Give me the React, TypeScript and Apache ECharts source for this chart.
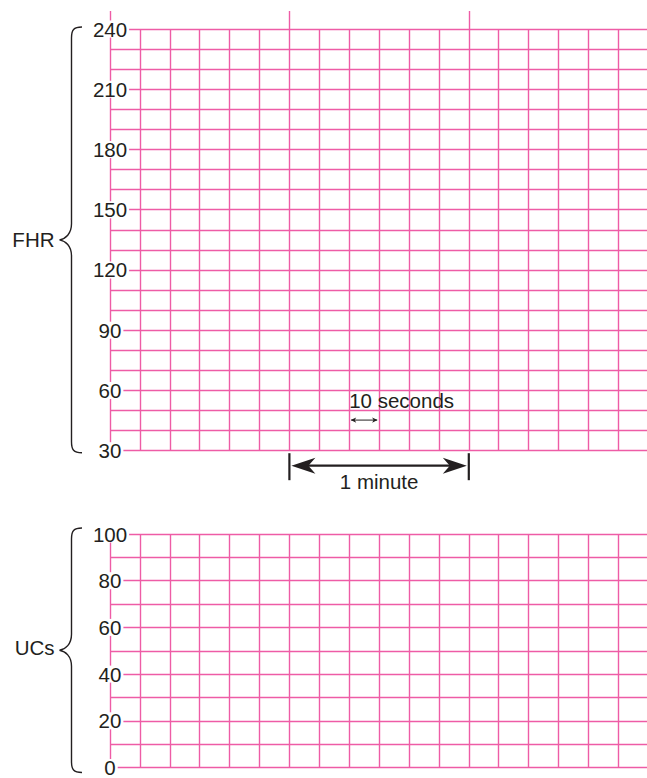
import React, { useEffect, useRef } from 'react';
import * as echarts from 'echarts';

// 10-second columns across three minutes
const timeRange = [0, 18];
const minuteStep = 6;
const fhrRange = [30, 240];
const fhrLabelStep = 30;
const fhrMinorParts = 3;
const ucRange = [0, 100];
const ucLabelStep = 20;
const ucMinorParts = 2;
const axisTitles = ['FHR', 'UCs'];
const annotationTexts = ['10 seconds', '1 minute'];
const tenSecondSpan = [8, 9];
const tenSecondRow = [55, 45];
const minuteSpan = [6, 12];

const gridColor = '#ee5ca6';
const textColor = '#231f20';
const font = '"Liberation Sans", Arial, Helvetica, sans-serif';

function xAxis(gridIndex: number, interval: number) {
  return {
    type: 'value', gridIndex, min: timeRange[0], max: timeRange[1], interval,
    axisLine: { show: false }, axisTick: { show: false }, axisLabel: { show: false },
    splitLine: { show: true, lineStyle: { color: gridColor, width: 1.4 } },
  };
}
function yAxis(gridIndex: number, range: number[], step: number, parts: number) {
  return {
    type: 'value', gridIndex, min: range[0], max: range[1], interval: step, z: 3,
    axisLine: { show: false }, axisTick: { show: false },
    axisLabel: {
      show: true, margin: 0, align: 'center', verticalAlign: 'middle', fontSize: 20.5,
      fontFamily: font, color: textColor, backgroundColor: '#ffffff', padding: [0, 2], lineHeight: 17,
    },
    splitLine: { show: true, lineStyle: { color: gridColor, width: 1.4 } },
    minorTick: { show: false, splitNumber: parts },
    minorSplitLine: { show: true, lineStyle: { color: gridColor, width: 1.4 } },
  };
}

function bracePath(top: number, bot: number, xLine: number, xTip: number, xHook: number) {
  const mid = (top + bot) / 2;
  return `M${xHook} ${top} C${xLine + 2} ${top} ${xLine} ${top + 3} ${xLine} ${top + 11} ` +
    `L${xLine} ${mid - 16} C${xLine} ${mid - 6} ${xTip + 6} ${mid - 1} ${xTip} ${mid} ` +
    `C${xTip + 6} ${mid + 1} ${xLine} ${mid + 6} ${xLine} ${mid + 16} ` +
    `L${xLine} ${bot - 11} C${xLine} ${bot - 3} ${xLine + 2} ${bot} ${xHook} ${bot}`;
}

export default function App() {
  const ref = useRef<HTMLDivElement>(null);
  useEffect(() => {
    if (!ref.current) return;
    const chart = echarts.init(ref.current, undefined, { renderer: 'svg' });
    chart.setOption({
      animation: false,
      backgroundColor: '#ffffff',
      grid: [
        { left: 110, top: 29, width: 538.2, height: 421.7 },
        { left: 110, top: 534, width: 538.2, height: 240.7 },
        { left: 110, top: 11, width: 538.2, height: 18 },
      ],
      xAxis: [xAxis(0, 1), xAxis(1, 1), xAxis(2, minuteStep)],
      yAxis: [
        yAxis(0, fhrRange, fhrLabelStep, fhrMinorParts),
        yAxis(1, ucRange, ucLabelStep, ucMinorParts),
        { type: 'value', gridIndex: 2, min: 0, max: 1, show: false },
      ],
      series: [],
    });

    const p = (gi: number, x: number, y: number) =>
      chart.convertToPixel({ xAxisIndex: gi, yAxisIndex: gi } as any, [x, y]) as number[];

    const gl = p(0, timeRange[0], fhrRange[1])[0];
    const fTop = p(0, 0, fhrRange[1])[1] - 2;
    const fBot = p(0, 0, fhrRange[0])[1] + 2;
    const uTop = p(1, 0, ucRange[1])[1] - 6;
    const uBot = p(1, 0, ucRange[0])[1] + 5;
    const xLine = gl - 38.5;
    echarts.graphic.registerShape('fhrBrace', echarts.graphic.extendPath(bracePath(fTop, fBot, xLine, xLine - 12, xLine + 10.5), {}) as any);
    echarts.graphic.registerShape('ucBrace', echarts.graphic.extendPath(bracePath(uTop, uBot, xLine, xLine - 12, xLine + 10.5), {}) as any);

    const bottom30 = p(0, 0, fhrRange[0])[1];
    const m1 = p(0, minuteSpan[0], 0)[0];
    const m2 = p(0, minuteSpan[1], 0)[0];
    const ay = bottom30 + 15;
    const s1 = p(0, tenSecondSpan[0], tenSecondRow[0]);
    const s2 = p(0, tenSecondSpan[1], tenSecondRow[1]);
    const sy = s2[1] - 0.5;

    const ink = { stroke: textColor, fill: 'none', lineWidth: 1.4 };
    const txt = (text: string, align: string) => ({ text, fill: textColor, fontSize: 20.5, fontFamily: font, align, verticalAlign: 'middle' });
    chart.setOption({
      graphic: [
        { type: 'fhrBrace', x: 0, y: 0, z: 10, style: ink },
        { type: 'ucBrace', x: 0, y: 0, z: 10, style: ink },
        { type: 'text', x: xLine - 17, y: (fTop + fBot) / 2, z: 10, style: txt(axisTitles[0], 'right') },
        { type: 'text', x: xLine - 17, y: (uTop + uBot) / 2 - 3, z: 10, style: txt(axisTitles[1], 'right') },
        // 10 seconds
        { type: 'text', x: s1[0], y: s1[1] + 0.5, z: 10, style: txt(annotationTexts[0], 'left') },
        { type: 'line', z: 10, shape: { x1: s1[0] + 2, y1: sy, x2: s2[0] - 2, y2: sy }, style: { stroke: textColor, lineWidth: 1 } },
        { type: 'polygon', z: 10, shape: { points: [[s1[0] + 1.5, sy], [s1[0] + 7, sy - 2.6], [s1[0] + 5.5, sy], [s1[0] + 7, sy + 2.6]] }, style: { fill: textColor } },
        { type: 'polygon', z: 10, shape: { points: [[s2[0] - 1.5, sy], [s2[0] - 7, sy - 2.6], [s2[0] - 5.5, sy], [s2[0] - 7, sy + 2.6]] }, style: { fill: textColor } },
        // 1 minute
        { type: 'line', z: 10, shape: { x1: m1, y1: bottom30 + 2.5, x2: m1, y2: bottom30 + 29.5 }, style: { stroke: textColor, lineWidth: 2.2 } },
        { type: 'line', z: 10, shape: { x1: m2, y1: bottom30 + 2.5, x2: m2, y2: bottom30 + 29.5 }, style: { stroke: textColor, lineWidth: 2.2 } },
        { type: 'line', z: 10, shape: { x1: m1 + 12, y1: ay, x2: m2 - 12, y2: ay }, style: { stroke: textColor, lineWidth: 2.2 } },
        { type: 'polygon', z: 10, shape: { points: [[m1 + 2, ay], [m1 + 26, ay - 8], [m1 + 19, ay], [m1 + 26, ay + 8]] }, style: { fill: textColor } },
        { type: 'polygon', z: 10, shape: { points: [[m2 - 2, ay], [m2 - 26, ay - 8], [m2 - 19, ay], [m2 - 26, ay + 8]] }, style: { fill: textColor } },
        { type: 'text', x: (m1 + m2) / 2, y: bottom30 + 30.5, z: 10, style: txt(annotationTexts[1], 'center') },
      ],
    });
    return () => chart.dispose();
  }, []);
  return (
    <div style={{ position: 'absolute', left: 0, top: 0, width: 647, height: 778, overflow: 'hidden', background: '#fff' }}>
      <div ref={ref} style={{ width: 660, height: 778 }} />
    </div>
  );
}
